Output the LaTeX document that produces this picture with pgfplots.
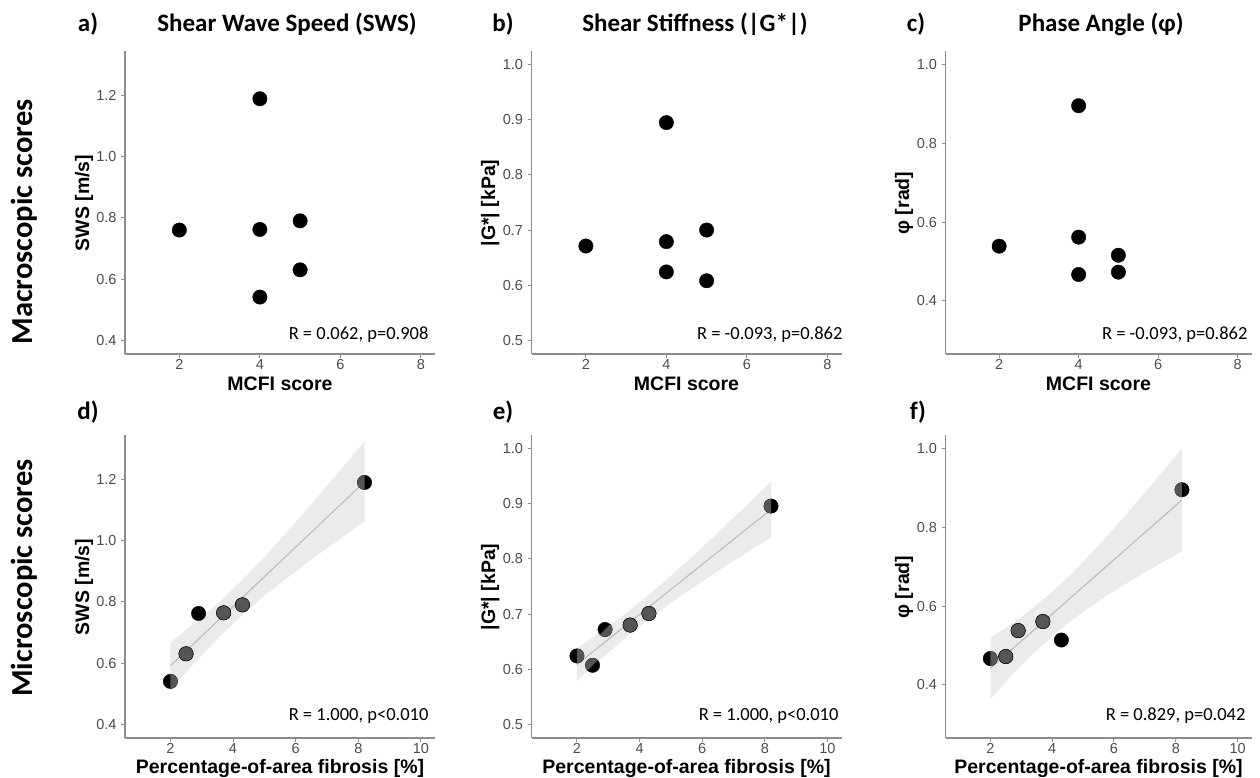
\documentclass[border=0pt]{standalone}
\usepackage{fontspec}
\setmainfont{Liberation Sans}
\newfontfamily\calfont{Carlito}
\usepackage{pgfplots}
\pgfplotsset{compat=1.18}
\definecolor{tickgray}{HTML}{4D4D4D}
\definecolor{axgray}{HTML}{8C8C8C}
\definecolor{ptgray}{HTML}{555555}
\definecolor{bandgray}{HTML}{EBEBEB}
\definecolor{linegray}{HTML}{BDBDBD}

% left half of a disc, rotated to show which side is grey
\pgfdeclareplotmark{halfdisc}{%
  \pgfpathmoveto{\pgfqpoint{0pt}{\pgfplotmarksize}}%
  \pgfpatharc{90}{270}{\pgfplotmarksize}%
  \pgfpathclose
  \pgfusepathqfill}

\pgfplotsset{
  panel/.style={
    scale only axis, width=310pt, height=303pt, anchor=south west,
    axis lines=left, axis line style={-, draw=axgray, line width=1.3pt},
    tick align=outside, major tick length=4pt,
    tick style={draw=axgray, line width=1pt},
    tick label style={font=\fontsize{14.5}{16}\selectfont, text=tickgray},
    /pgf/number format/assume math mode=true,
    xticklabel style={yshift=1pt, inner sep=2pt},
    yticklabel style={xshift=-1pt, /pgf/number format/.cd, fixed, fixed zerofill, precision=1},
    clip=false,
  },
  top/.style={xmin=0.65, xmax=8.35, xtick={2,4,6,8}},
  bot/.style={xmin=0.55, xmax=10.45, xtick={2,4,6,8,10}},
  dots/.style={only marks, mark=*, mark size=7.2pt, mark options={draw=none, fill=#1}},
  halves/.style={only marks, mark=halfdisc, mark size=7.2pt, mark options={draw=none, fill=ptgray, rotate=#1}},
  band/.style={fill=bandgray, draw=none},
  fit/.style={draw=linegray, line width=1.2pt, no marks},
}
\tikzset{xlab/.style={anchor=base, inner sep=0pt}}

\newcommand{\ttl}[1]{\calfont\bfseries\fontsize{25}{29}\selectfont #1}
\newcommand{\lab}[1]{\bfseries\fontsize{19.5}{22}\selectfont #1}
\newcommand{\stat}[1]{\calfont\fontsize{18.5}{22}\selectfont #1}

\begin{document}
\begin{tikzpicture}
\useasboundingbox (0,0) rectangle (1260pt,-778pt);

% ---------- row labels ----------
\node[rotate=90, anchor=base] at (32pt,-222pt) {\calfont\bfseries\fontsize{30.5}{34}\selectfont Macroscopic scores};
\node[rotate=90, anchor=base] at (32pt,-578pt) {\calfont\bfseries\fontsize{30.5}{34}\selectfont Microscopic scores};

% ---------- titles ----------
\node[anchor=base] at (88pt,-32pt) {\ttl{a)}};
\node[anchor=base] at (287pt,-32pt) {\ttl{Shear Wave Speed (SWS)}};
\node[anchor=base] at (503pt,-32pt) {\ttl{b)}};
\node[anchor=base] at (695pt,-32pt) {\ttl{Shear Stiffness (|G*|)}};
\node[anchor=base] at (916pt,-32pt) {\ttl{c)}};
\node[anchor=base] at (1101pt,-32pt) {\ttl{Phase Angle (φ)}};
\node[anchor=base] at (88pt,-419pt) {\ttl{d)}};
\node[anchor=base] at (503pt,-419pt) {\ttl{e)}};
\node[anchor=base] at (918pt,-419pt) {\ttl{f)}};

% ---------- axis labels ----------
\node[xlab] at (280pt,-390pt) {\lab{MCFI score}};
\node[xlab] at (686.5pt,-390pt) {\lab{MCFI score}};
\node[xlab] at (1098.5pt,-390pt) {\lab{MCFI score}};
\node[xlab] at (280pt,-773.5pt) {\lab{Percentage-of-area fibrosis [\%]}};
\node[xlab] at (686.5pt,-773.5pt) {\lab{Percentage-of-area fibrosis [\%]}};
\node[xlab] at (1098.5pt,-773.5pt) {\lab{Percentage-of-area fibrosis [\%]}};
\node[rotate=90, anchor=base] at (89pt,-203pt) {\lab{SWS [m/s]}};
\node[rotate=90, anchor=base] at (495pt,-203pt) {\lab{|G*| [kPa]}};
\node[rotate=90, anchor=base] at (909pt,-203pt) {\lab{φ [rad]}};
\node[rotate=90, anchor=base] at (89pt,-587pt) {\lab{SWS [m/s]}};
\node[rotate=90, anchor=base] at (495pt,-587pt) {\lab{|G*| [kPa]}};
\node[rotate=90, anchor=base] at (909pt,-587pt) {\lab{φ [rad]}};

% ---------- statistics ----------
\node[anchor=base east] at (432pt,-339pt) {\stat{R = 0.062, p=0.908}};
\node[anchor=base east] at (846pt,-339pt) {\stat{R = -0.093, p=0.862}};
\node[anchor=base east] at (1251pt,-339pt) {\stat{R = -0.093, p=0.862}};
\node[anchor=base east] at (432pt,-720pt) {\stat{R = 1.000, p<0.010}};
\node[anchor=base east] at (842pt,-720pt) {\stat{R = 1.000, p<0.010}};
\node[anchor=base east] at (1249pt,-720pt) {\stat{R = 0.829, p=0.042}};

% ---------- a) SWS vs MCFI ----------
\begin{axis}[panel, top, at={(125pt,-354pt)},
  ymin=0.355, ymax=1.345, ytick={0.4,0.6,0.8,1.0,1.2}]
\addplot[dots=black] coordinates {(2,0.760) (4,1.189) (4,0.762) (4,0.541) (5,0.790) (5,0.630)};
\end{axis}

% ---------- b) |G*| vs MCFI ----------
\begin{axis}[panel, top, at={(531.5pt,-354pt)},
  ymin=0.475, ymax=1.025, ytick={0.5,0.6,0.7,0.8,0.9,1.0}]
\addplot[dots=black] coordinates {(2,0.671) (4,0.895) (4,0.679) (4,0.624) (5,0.700) (5,0.608)};
\end{axis}

% ---------- c) phase angle vs MCFI ----------
\begin{axis}[panel, top, width=306pt, at={(945.5pt,-354pt)},
  ymin=0.265, ymax=1.035, ytick={0.4,0.6,0.8,1.0}]
\addplot[dots=black] coordinates {(2,0.539) (4,0.896) (4,0.562) (4,0.467) (5,0.516) (5,0.473)};
\end{axis}

% ---------- d) SWS vs fibrosis ----------
\begin{axis}[panel, bot, at={(125pt,-738pt)},
  ymin=0.355, ymax=1.345, ytick={0.4,0.6,0.8,1.0,1.2}]
\addplot[band] coordinates {
 (2.0,0.668) (2.5,0.708) (3.0,0.750) (3.5,0.794) (4.0,0.842) (4.5,0.893) (5.0,0.946)
 (5.5,1.003) (6.0,1.060) (6.5,1.119) (7.0,1.179) (7.5,1.240) (8.2,1.325)
 (8.2,1.063) (7.5,1.012) (7.0,0.975) (6.5,0.938) (6.0,0.899) (5.5,0.860) (5.0,0.819)
 (4.5,0.775) (4.0,0.729) (3.5,0.679) (3.0,0.626) (2.5,0.570) (2.0,0.513)} -- cycle;
\addplot[dots=black] coordinates {(2.0,0.540) (2.5,0.630) (2.9,0.762) (3.7,0.764) (4.3,0.790) (8.2,1.190)};
\addplot[dots=ptgray] coordinates {(2.5,0.630) (3.7,0.764) (4.3,0.790)};
\addplot[halves=180] coordinates {(2.0,0.540)};
\addplot[halves=0] coordinates {(8.2,1.190)};
\addplot[fit] coordinates {(2.0,0.591) (8.2,1.192)};
\end{axis}

% ---------- e) |G*| vs fibrosis ----------
\begin{axis}[panel, bot, at={(531.5pt,-738pt)},
  ymin=0.475, ymax=1.025, ytick={0.5,0.6,0.7,0.8,0.9,1.0}]
\addplot[band] coordinates {
 (2.0,0.6385) (2.5,0.6578) (3.0,0.6779) (3.5,0.6989) (4.0,0.7211) (4.5,0.7446) (5.0,0.7693)
 (5.5,0.7948) (6.0,0.8210) (6.5,0.8477) (7.0,0.8747) (7.5,0.9019) (8.2,0.9402)
 (8.2,0.8394) (7.5,0.8143) (7.0,0.7961) (6.5,0.7777) (6.0,0.7590) (5.5,0.7398) (5.0,0.7201)
 (4.5,0.6994) (4.0,0.6775) (3.5,0.6543) (3.0,0.6299) (2.5,0.6046) (2.0,0.5785)} -- cycle;
\addplot[dots=black] coordinates {(2.0,0.624) (2.5,0.607) (2.9,0.672) (3.7,0.680) (4.3,0.701) (8.2,0.896)};
\addplot[dots=ptgray] coordinates {(3.7,0.680) (4.3,0.701)};
\addplot[halves=180] coordinates {(2.0,0.624)};
\addplot[halves=-45] coordinates {(2.5,0.607)};
\addplot[halves=135] coordinates {(2.9,0.672)};
\addplot[halves=0] coordinates {(8.2,0.896)};
\addplot[fit] coordinates {(2.0,0.6085) (8.2,0.8898)};
\end{axis}

% ---------- f) phase angle vs fibrosis ----------
\begin{axis}[panel, bot, width=306pt, at={(945.5pt,-738pt)},
  ymin=0.265, ymax=1.035, ytick={0.4,0.6,0.8,1.0}]
\addplot[band] coordinates {
 (2.0,0.5195) (2.5,0.5453) (3.0,0.5730) (3.5,0.6032) (4.0,0.6365) (4.5,0.6730) (5.0,0.7126)
 (5.5,0.7545) (6.0,0.7981) (6.5,0.8429) (7.0,0.8885) (7.5,0.9347) (8.2,1.0000)
 (8.2,0.7396) (7.5,0.7083) (7.0,0.6855) (6.5,0.6621) (6.0,0.6379) (5.5,0.6125) (5.0,0.5854)
 (4.5,0.5560) (4.0,0.5235) (3.5,0.4878) (3.0,0.4490) (2.5,0.4077) (2.0,0.3645)} -- cycle;
\addplot[dots=black] coordinates {(2.0,0.467) (2.5,0.472) (2.9,0.538) (3.7,0.561) (4.3,0.514) (8.2,0.896)};
\addplot[dots=ptgray] coordinates {(2.5,0.472) (2.9,0.538) (3.7,0.561)};
\addplot[halves=180] coordinates {(2.0,0.467)};
\addplot[halves=0] coordinates {(8.2,0.896)};
\addplot[fit] coordinates {(2.0,0.442) (8.2,0.870)};
\end{axis}
\end{tikzpicture}
\end{document}
